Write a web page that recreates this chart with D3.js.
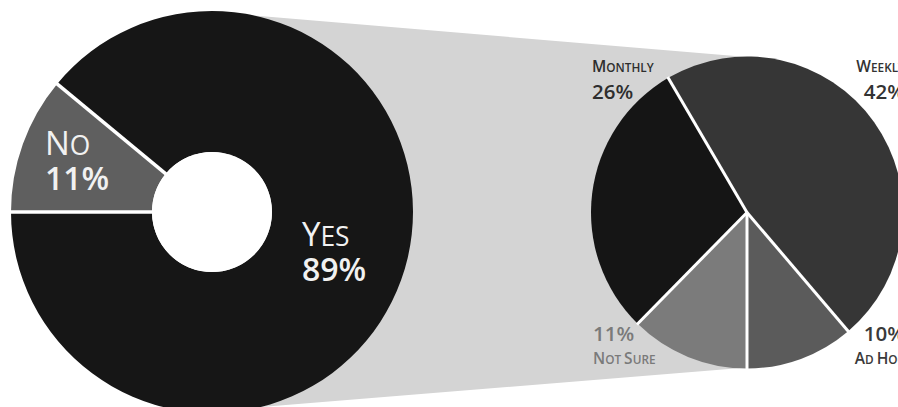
<!DOCTYPE html>
<html>
<head>
<meta charset="utf-8">
<script src="https://cdn.jsdelivr.net/npm/d3@7"></script>
<style>
  html, body { margin: 0; padding: 0; background: #fff; }
  svg { display: block; }
  text { font-family: "Open Sans", "DejaVu Sans", sans-serif; }
</style>
</head>
<body>
<svg id="chart" width="898" height="407"></svg>
<script>
// Share of respondents who answered the question
const answerCategories = ["No", "Yes"];
const answerValues = [11, 89];

// Breakdown of the "Yes" answers by frequency (percent of all respondents)
const frequencyCategories = ["Not Sure", "Monthly", "Weekly", "Ad Hoc"];
const frequencyValues = [11, 26, 42, 10];

const svg = d3.select("#chart");

// Layout
const donut = { cx: 212, cy: 212, outer: 201, inner: 60 };
const pieC = { cx: 747, cy: 212.5, r: 156 };

const answerColor = d3.scaleOrdinal()
  .domain(answerCategories)
  .range(["#5f5f5f", "#161616"]);

const freqColor = d3.scaleOrdinal()
  .domain(frequencyCategories)
  .range(["#7b7b7b", "#151515", "#363636", "#5b5b5b"]);

const freqLabelColor = d3.scaleOrdinal()
  .domain(frequencyCategories)
  .range(["#7a7a7a", "#2e2e2e", "#333333", "#3a3a3a"]);

// Grey connector joining the "Yes" donut to the breakdown pie
const funnel = [
  [donut.cx, donut.cy - donut.outer + 1],
  [pieC.cx, pieC.cy - pieC.r + 0.5],
  [pieC.cx, pieC.cy + pieC.r - 1],
  [donut.cx, donut.cy + donut.outer - 2]
];
svg.append("path")
  .attr("d", d3.line()(funnel) + "Z")
  .attr("fill", "#d4d4d4");

const radial = (a, r) => [r * Math.sin(a), -r * Math.cos(a)];

// small-caps style run: capitals at full size, the other letters as reduced capitals
function smallCaps(textSel, str, size, ratio) {
  let buf = "";
  const flush = () => {
    if (buf) textSel.append("tspan").attr("font-size", size * ratio).text(buf.toUpperCase());
    buf = "";
  };
  for (const ch of str) {
    if (ch !== " " && ch === ch.toUpperCase()) {
      flush();
      textSel.append("tspan").attr("font-size", size).text(ch);
    } else {
      buf += ch;
    }
  }
  flush();
}

// two-line label: name and percentage in one text element
function twoLineLabel(g, opts) {
  const t = g.append("text")
    .attr("x", opts.x).attr("y", opts.y)
    .attr("text-anchor", opts.anchor)
    .attr("fill", opts.color);
  const addName = (first) => {
    const holder = t.append("tspan").attr("font-weight", opts.nameWeight);
    if (!first) holder.attr("x", opts.x).attr("dy", opts.gap);
    smallCaps(holder, opts.name, opts.nameSize, opts.ratio);
  };
  const addNum = (first) => {
    const s = t.append("tspan")
      .attr("font-size", opts.numSize)
      .attr("font-weight", opts.numWeight)
      .text(opts.value + "%");
    if (!first) s.attr("x", opts.x).attr("dy", opts.gap);
  };
  if (opts.numFirst) { addNum(true); addName(false); }
  else { addName(true); addNum(false); }
}

// ---- Donut: Yes / No ----
const answerData = answerCategories.map((c, i) => ({ cat: c, value: answerValues[i] }));
const answerPie = d3.pie()
  .sort(null)
  .value(d => d.value)
  .startAngle(1.5 * Math.PI)
  .endAngle(3.5 * Math.PI);
const answerArcs = answerPie(answerData);

const donutArc = d3.arc().innerRadius(donut.inner).outerRadius(donut.outer);
const gDonut = svg.append("g").attr("transform", `translate(${donut.cx},${donut.cy})`);

gDonut.selectAll("path.slice")
  .data(answerArcs)
  .join("path")
  .attr("class", "slice")
  .attr("d", donutArc)
  .attr("fill", d => answerColor(d.data.cat));

// white separators between slices
gDonut.selectAll("line.sep")
  .data(answerArcs)
  .join("line")
  .attr("class", "sep")
  .attr("x1", d => radial(d.startAngle, donut.inner - 2)[0])
  .attr("y1", d => radial(d.startAngle, donut.inner - 2)[1])
  .attr("x2", d => radial(d.startAngle, donut.outer + 2)[0])
  .attr("y2", d => radial(d.startAngle, donut.outer + 2)[1])
  .attr("stroke", "#fff")
  .attr("stroke-width", 3.5);

// hole
gDonut.append("circle").attr("r", donut.inner).attr("fill", "#fff");

const answerLabelPos = { "No": [-167, -57], "Yes": [90, 34] };
answerArcs.forEach(d => {
  const [x, y] = answerLabelPos[d.data.cat];
  twoLineLabel(gDonut, {
    x, y, anchor: "start", color: "#f1f1f1",
    name: d.data.cat, nameSize: 33, ratio: 0.8, nameWeight: 400,
    value: d.data.value, numSize: 32, numWeight: 600,
    gap: 35, numFirst: false
  });
});

// ---- Pie: frequency breakdown ----
const freqData = frequencyCategories.map((c, i) => ({ cat: c, value: frequencyValues[i] }));
const freqPie = d3.pie()
  .sort(null)
  .value(d => d.value)
  .startAngle(Math.PI)
  .endAngle(3 * Math.PI);
const freqArcs = freqPie(freqData);

const pieArc = d3.arc().innerRadius(0).outerRadius(pieC.r);
const gPie = svg.append("g").attr("transform", `translate(${pieC.cx},${pieC.cy})`);

gPie.selectAll("path.slice")
  .data(freqArcs)
  .join("path")
  .attr("class", "slice")
  .attr("d", pieArc)
  .attr("fill", d => freqColor(d.data.cat));

gPie.selectAll("line.sep")
  .data(freqArcs)
  .join("line")
  .attr("class", "sep")
  .attr("x1", 0).attr("y1", 0)
  .attr("x2", d => radial(d.startAngle, pieC.r + 1)[0])
  .attr("y2", d => radial(d.startAngle, pieC.r + 1)[1])
  .attr("stroke", "#fff")
  .attr("stroke-width", 3);

// label placement: [x, y, anchor, numberFirst]
const freqLabelPos = {
  "Monthly": [-155, -141, "start", false],
  "Weekly": [158, -141, "end", false],
  "Not Sure": [-154, 128.5, "start", true],
  "Ad Hoc": [158, 128.5, "end", true]
};
freqArcs.forEach(d => {
  const [x, y, anchor, numFirst] = freqLabelPos[d.data.cat];
  twoLineLabel(gPie, {
    x, y, anchor, color: freqLabelColor(d.data.cat),
    name: d.data.cat, nameSize: 15.5, ratio: 0.76, nameWeight: 600,
    value: d.data.value, numSize: 20.5, numWeight: 600,
    gap: numFirst ? 22.5 : 27, numFirst
  });
});
</script>
</body>
</html>
